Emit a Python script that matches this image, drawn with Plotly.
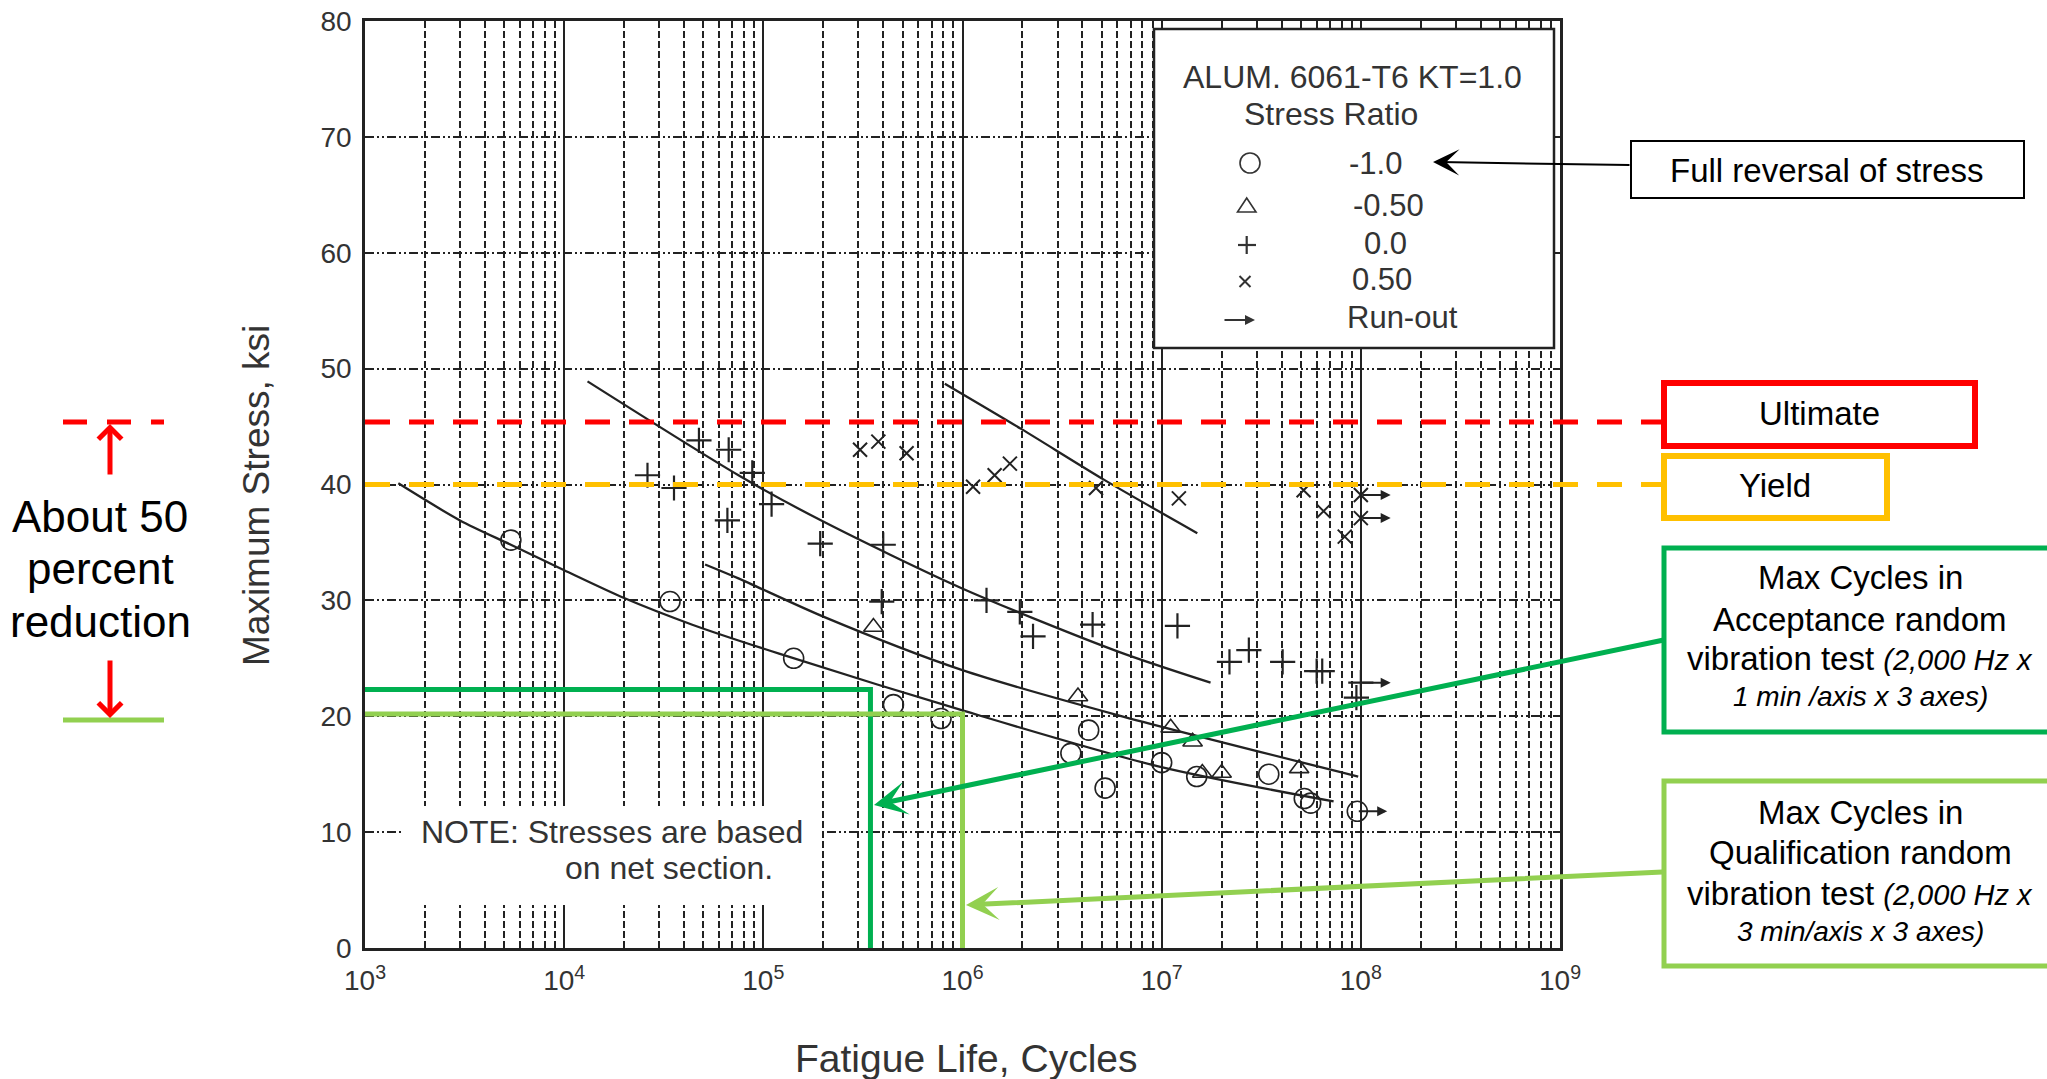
import math
import plotly.graph_objects as go

# ---------------- data ----------------
# Stress ratio R = -1.0 (open circles)
r_m1_cycles = [5.4e3, 3.4e4, 1.42e5, 4.5e5, 7.8e5, 3.5e6, 4.3e6, 5.2e6, 1.0e7, 1.5e7, 3.45e7, 5.2e7, 5.6e7, 9.6e7]
r_m1_stress = [35.2, 29.9, 25.0, 21.0, 19.8, 16.8, 18.8, 13.8, 16.0, 14.8, 15.0, 12.9, 12.5, 11.8]

# R = -0.50 (open triangles)
r_m05_cycles = [3.57e5, 3.8e6, 1.11e7, 1.43e7, 1.6e7, 2.0e7, 4.9e7]
r_m05_stress = [27.7, 21.7, 19.0, 17.8, 15.1, 15.1, 15.5]

# R = 0.0 (plus)
r_0_cycles = [2.62e4, 3.56e4, 4.75e4, 6.7e4, 8.8e4, 6.6e4, 1.1e5, 1.93e5, 4.0e5, 3.93e5, 1.32e6, 1.94e6,
              2.26e6, 4.5e6, 1.2e7, 2.19e7, 2.74e7, 4.05e7, 6.0e7, 6.4e7, 9.5e7, 1.0e8]
r_0_stress = [40.8, 39.7, 43.8, 43.0, 41.0, 36.9, 38.3, 34.9, 34.8, 29.9, 30.0, 29.0,
              26.9, 27.9, 27.8, 24.7, 25.7, 24.7, 23.9, 23.9, 21.6, 22.9]

# R = 0.50 (x)
r_05_cycles = [3.06e5, 3.78e5, 5.24e5, 1.13e6, 1.45e6, 1.73e6, 4.68e6, 1.22e7, 5.16e7, 6.5e7, 8.3e7, 1.0e8, 1.0e8]
r_05_stress = [43.0, 43.7, 42.7, 39.8, 40.8, 41.8, 39.7, 38.8, 39.5, 37.7, 35.5, 39.1, 37.1]

# run-out specimens (arrow to the right)
runout_cycles = [1.0e8, 1.0e8, 1.0e8, 9.6e7]
runout_stress = [39.1, 37.1, 22.9, 11.8]

# fitted S-N curves
curve_m1_cycles = [1.47e3, 3.0e3, 5.4e3, 1.0e4, 2.0e4, 4.4e4, 1.2e5, 1.0e6, 9.5e6, 7.3e7]
curve_m1_stress = [40.1, 36.9, 34.8, 32.6, 30.2, 27.9, 25.4, 20.5, 15.7, 12.65]
curve_m05_cycles = [5.1e4, 7.5e4, 2.0e5, 9.9e5, 6.0e6, 9.7e7]
curve_m05_stress = [33.1, 31.9, 28.6, 24.0, 20.1, 14.8]
curve_0_cycles = [1.31e4, 7.5e4, 2.0e5, 9.9e5, 6.0e6, 1.76e7]
curve_0_stress = [48.9, 40.8, 36.8, 31.05, 25.6, 22.9]
curve_05_cycles = [8.15e5, 1.97e6, 5.15e6, 1.51e7]
curve_05_stress = [48.7, 44.8, 40.4, 35.8]

# reference levels
ultimate_ksi = 45.4
yield_ksi = 40.0
acceptance_cycles, acceptance_ksi = 3.45e5, 22.3
qualification_cycles, qualification_ksi = 1.0e6, 20.2

# axes
x_range_log = [3, 9]
y_range = [0, 80]
x_tick_vals = [1e3, 1e4, 1e5, 1e6, 1e7, 1e8, 1e9]
x_tick_text = ["10<sup>3</sup>", "10<sup>4</sup>", "10<sup>5</sup>", "10<sup>6</sup>",
               "10<sup>7</sup>", "10<sup>8</sup>", "10<sup>9</sup>"]
y_tick_vals = [0, 10, 20, 30, 40, 50, 60, 70, 80]
x_minor_vals = [k * 10 ** e for e in range(3, 9) for k in range(2, 10)]

# ---------------- layout helpers ----------------
FONT = "Liberation Sans, Arial, sans-serif"
W, H = 2047, 1079
PL, PR, PT, PB = 365, 1560, 21, 948
INK = "#222222"
TXT = "#333333"
RED, ORANGE, GREEN, LGREEN = "#FF0000", "#FFC000", "#00B050", "#92D050"


def fx(p):
    return (p - PL) / (PR - PL)


def fy(p):
    return (PB - p) / (PB - PT)


def vy(v):
    return (v - y_range[0]) / (y_range[1] - y_range[0])


shapes = []
annotations = []


def rect(x0, y0, x1, y1, color, width, fill="rgba(0,0,0,0)"):
    shapes.append(dict(type="rect", xref="paper", yref="paper", x0=fx(x0), x1=fx(x1),
                       y0=fy(y1), y1=fy(y0), line=dict(color=color, width=width),
                       fillcolor=fill, layer="above"))


def seg(x0, y0, x1, y1, color, width, dash="solid"):
    shapes.append(dict(type="line", xref="paper", yref="paper", x0=x0, x1=x1, y0=y0, y1=y1,
                       line=dict(color=color, width=width, dash=dash), layer="above"))


def text(x, y, s, size, color="black", anchor="center"):
    annotations.append(dict(xref="paper", yref="paper", x=fx(x), y=fy(y), text=s, showarrow=False,
                            font=dict(size=size, color=color, family=FONT),
                            xanchor=anchor, yanchor="middle"))


def arrow(tipx, tipy, tailx, taily, color, width, head, size):
    annotations.append(dict(xref="paper", yref="paper", x=fx(tipx), y=fy(tipy),
                            ax=tailx - tipx, ay=taily - tipy, axref="pixel", ayref="pixel",
                            text="", showarrow=True, arrowhead=head, arrowsize=size,
                            arrowwidth=width, arrowcolor=color))


# ---------------- figure ----------------
fig = go.Figure()

for cx, cy in [(curve_m1_cycles, curve_m1_stress), (curve_m05_cycles, curve_m05_stress),
               (curve_0_cycles, curve_0_stress), (curve_05_cycles, curve_05_stress)]:
    fig.add_trace(go.Scatter(x=cx, y=cy, mode="lines",
                             line=dict(color=INK, width=2.3, shape="spline", smoothing=0.8),
                             hoverinfo="skip"))

fig.add_trace(go.Scatter(x=r_m1_cycles, y=r_m1_stress, mode="markers", name="-1.0",
                         marker=dict(symbol="circle-open", size=20, color=INK, line=dict(width=1.6))))
fig.add_trace(go.Scatter(x=r_m05_cycles, y=r_m05_stress, mode="markers", name="-0.50",
                         marker=dict(symbol="triangle-up-open", size=17, color=INK, line=dict(width=1.6))))
fig.add_trace(go.Scatter(x=r_0_cycles, y=r_0_stress, mode="markers", name="0.0",
                         marker=dict(symbol="cross-thin-open", size=18, color=INK, line=dict(width=2.2))))
fig.add_trace(go.Scatter(x=r_05_cycles, y=r_05_stress, mode="markers", name="0.50",
                         marker=dict(symbol="x-thin-open", size=14, color=INK, line=dict(width=2))))

# acceptance / qualification construction lines
fig.add_trace(go.Scatter(x=[10 ** x_range_log[0], acceptance_cycles, acceptance_cycles],
                         y=[acceptance_ksi, acceptance_ksi, y_range[0]], mode="lines",
                         line=dict(color=GREEN, width=5), hoverinfo="skip"))
fig.add_trace(go.Scatter(x=[10 ** x_range_log[0], qualification_cycles, qualification_cycles],
                         y=[qualification_ksi, qualification_ksi, y_range[0]], mode="lines",
                         line=dict(color=LGREEN, width=5), hoverinfo="skip"))

# run-out arrows
for n, s in zip(runout_cycles, runout_stress):
    lx = math.log10(n)
    annotations.append(dict(xref="x", yref="y", x=lx + 0.15, y=s, axref="x", ayref="y", ax=lx, ay=s,
                            text="", showarrow=True, arrowhead=2, arrowsize=1, arrowwidth=2,
                            arrowcolor=INK))

# white note box & note text
rect(404, 806, 821, 905, "rgba(0,0,0,0)", 0, fill="white")
text(612, 832, "NOTE: Stresses are based", 32, TXT)
text(669, 868, "on net section.", 32, TXT)

# in-plot legend box
rect(1154, 29, 1554, 348, INK, 2.5, fill="white")
text(1352, 77, "ALUM. 6061-T6 KT=1.0", 32, TXT)
text(1331, 114, "Stress Ratio", 32, TXT)
text(1375, 163, "-1.0", 31, TXT)
text(1388, 205, "-0.50", 31, TXT)
text(1385, 244, "0.0", 31, TXT)
text(1382, 279, "0.50", 31, TXT)
text(1402, 318, "Run-out", 31, TXT)
# legend keys
shapes.append(dict(type="circle", xref="paper", yref="paper", x0=fx(1240), x1=fx(1260), y0=fy(173), y1=fy(153),
                   line=dict(color=TXT, width=1.6), layer="above"))
shapes.append(dict(type="path", xref="paper", yref="paper",
                   path="M {} {} L {} {} L {} {} Z".format(fx(1237.5), fy(212), fx(1256), fy(212), fx(1246.7), fy(198)),
                   line=dict(color=TXT, width=1.6), layer="above"))
seg(fx(1238), fy(245), fx(1256), fy(245), TXT, 2.2)
seg(fx(1246.7), fy(236), fx(1246.7), fy(254), TXT, 2.2)
seg(fx(1239.5), fy(276), fx(1250.5), fy(287), TXT, 2)
seg(fx(1239.5), fy(287), fx(1250.5), fy(276), TXT, 2)
arrow(1255, 320, 1223, 320, TXT, 2, 2, 1)

# ultimate / yield levels
seg(0, vy(ultimate_ksi), fx(1664), vy(ultimate_ksi), RED, 5, "25px,19px")
seg(0, vy(yield_ksi), fx(1664), vy(yield_ksi), ORANGE, 5, "25px,19px")

# right-hand call-out boxes
rect(1631, 141, 2024, 198, "black", 2)
text(1827, 170, "Full reversal of stress", 33)
arrow(1433, 162, 1631, 165, "black", 2, 3, 2.2)

rect(1664, 383, 1975, 446, RED, 6)
text(1819, 414, "Ultimate", 33)
rect(1664, 456, 1887, 518, ORANGE, 6)
text(1775, 486, "Yield", 33)

rect(1664, 548, 2058, 732, GREEN, 5)
for yy, s in zip([577, 619, 658, 696],
                 ["Max Cycles in", "Acceptance random",
                  "vibration test <i><span style='font-size:29px'>(2,000 Hz x</span></i>",
                  "<i>1 min /axis x 3 axes)</i>"]):
    text(1860, yy, s, 33 if yy < 690 else 28)
arrow(874, 805, 1664, 640, GREEN, 5, 3, 1.1)

rect(1664, 781, 2058, 966, LGREEN, 5)
for yy, s in zip([812, 852.5, 893, 931],
                 ["Max Cycles in", "Qualification random",
                  "vibration test <i><span style='font-size:29px'>(2,000 Hz x</span></i>",
                  "<i>3 min/axis x 3 axes)</i>"]):
    text(1860, yy, s, 33 if yy < 920 else 28)
arrow(966, 905, 1664, 872, LGREEN, 5, 3, 1.1)

# left "about 50 percent" note
seg(fx(63), vy(ultimate_ksi), fx(164), vy(ultimate_ksi), RED, 5, "24px,20px")
seg(fx(63), fy(720), fx(164), fy(720), LGREEN, 5)
text(100, 516, "About 50", 44)
text(100, 569, "percent", 44)
text(100, 621, "reduction", 44)
arrow(110, 424, 110, 476, RED, 5, 4, 0.9)
arrow(110, 718, 110, 659, RED, 5, 4, 0.9)

# axis titles
text(257, 496, "Maximum Stress, ksi", 37, TXT)
annotations[-1]["textangle"] = -90
text(966, 1058, "Fatigue Life, Cycles", 39, TXT)

fig.update_layout(
    width=W, height=H,
    margin=dict(l=PL, r=W - PR, t=PT, b=H - PB, pad=0, autoexpand=False),
    paper_bgcolor="white", plot_bgcolor="white",
    showlegend=False,
    font=dict(family=FONT, color=TXT),
    shapes=shapes, annotations=annotations,
    xaxis=dict(type="log", range=x_range_log, tickvals=x_tick_vals, ticktext=x_tick_text,
               showgrid=True, gridcolor=INK, gridwidth=2, zeroline=False, automargin=False,
               showline=True, mirror=True, linecolor=INK, linewidth=2.5, ticks="",
               tickfont=dict(size=28, color=TXT, family=FONT), ticklabelstandoff=6,
               minor=dict(tickvals=x_minor_vals, showgrid=True, gridcolor=INK, gridwidth=1.6,
                          griddash="7px,3px", ticks="")),
    yaxis=dict(range=y_range, tickvals=y_tick_vals, showgrid=True, gridcolor=INK, gridwidth=1.6,
               griddash="9px,3px,2px,3px,2px,3px", zeroline=False, automargin=False,
               showline=True, mirror=True, linecolor=INK, linewidth=2.5, ticks="",
               tickfont=dict(size=28, color=TXT, family=FONT), ticklabelstandoff=5),
)

fig.write_html("out.html", config={"displayModeBar": False},
               post_script="document.body.style.margin='0px';document.body.style.overflow='hidden';")
